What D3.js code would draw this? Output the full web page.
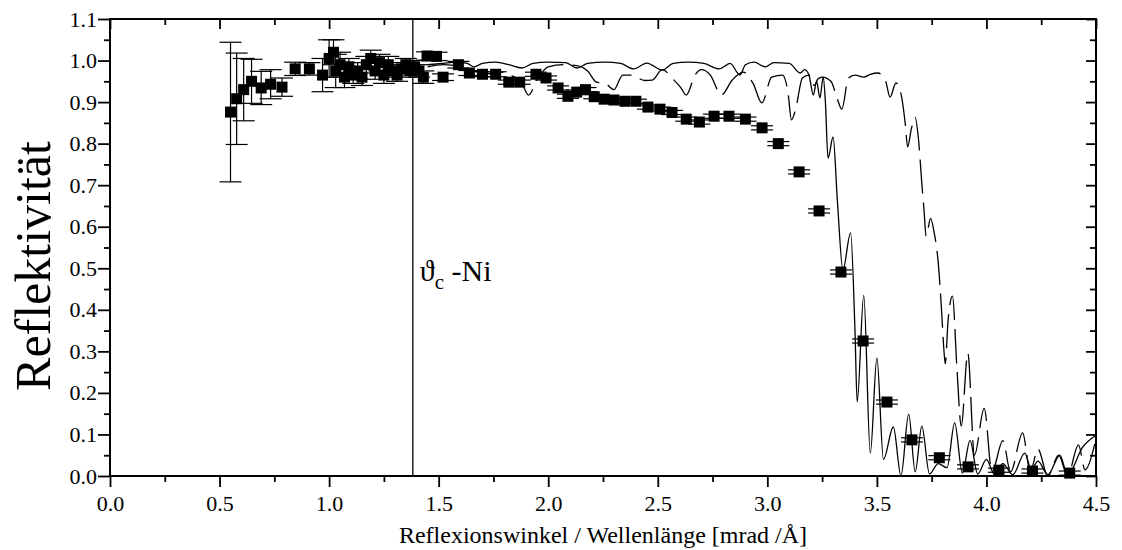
<!DOCTYPE html>
<html>
<head>
<meta charset="utf-8">
<script src="https://cdn.jsdelivr.net/npm/d3@7"></script>
<style>
  html, body { margin: 0; padding: 0; background: #fff; }
  svg { display: block; }
  text { font-family: "Liberation Serif", "Times New Roman", serif; fill: #000; }
</style>
</head>
<body>
<svg id="chart" width="1122" height="550"></svg>
<script>
// Measured reflectivity (angle/wavelength in mrad/Å, reflectivity, ± error)
const measQ = [0.55, 0.578, 0.61, 0.646, 0.69, 0.733, 0.785, 0.845, 0.91,
  0.97, 1.0, 1.02, 1.03, 1.05, 1.07, 1.09, 1.11, 1.13, 1.15, 1.17, 1.19, 1.21, 1.23, 1.25, 1.27, 1.29, 1.31, 1.33, 1.35, 1.37, 1.39, 1.41, 1.43,
  1.447, 1.49, 1.52, 1.59, 1.64, 1.70, 1.76, 1.82, 1.87, 1.944, 1.99, 2.045, 2.09, 2.13, 2.17, 2.21, 2.255, 2.30, 2.35, 2.40,
  2.455, 2.51, 2.565, 2.63, 2.69, 2.757, 2.825, 2.90, 2.976, 3.05, 3.145, 3.236, 3.336, 3.437, 3.546, 3.66, 3.785, 3.916, 4.057, 4.21, 4.38];
const measR = [0.876, 0.908, 0.93, 0.95, 0.934, 0.943, 0.936, 0.98, 0.98,
  0.965, 1.005, 1.02, 0.975, 0.99, 0.96, 0.985, 0.965, 0.975, 0.96, 0.99, 1.005, 0.975, 0.995, 0.965, 0.99, 0.975, 0.965, 0.98, 0.99, 0.975, 0.985, 0.975, 0.96,
  1.011, 1.01, 0.96, 0.99, 0.97, 0.967, 0.967, 0.948, 0.948, 0.967, 0.958, 0.934, 0.914, 0.924, 0.93, 0.913, 0.907, 0.905, 0.902, 0.902,
  0.888, 0.883, 0.875, 0.859, 0.852, 0.866, 0.866, 0.859, 0.838, 0.80, 0.732, 0.638, 0.491, 0.325, 0.178, 0.087, 0.044, 0.022, 0.014, 0.012, 0.007];
const measErr = [0.168, 0.11, 0.075, 0.053, 0.04, 0.035, 0.022, 0.016, 0.015,
  0.04, 0.045, 0.03, 0.04, 0.03, 0.025, 0.02, 0.02, 0.02, 0.02, 0.02, 0.02, 0.02, 0.02, 0.02, 0.02, 0.015, 0.015, 0.015, 0.015, 0.015, 0.015, 0.015, 0.015,
  0.01, 0.01, 0.008, 0.008, 0.006, 0.006, 0.006, 0.005, 0.005, 0.005, 0.005, 0.005, 0.005, 0.005, 0.005, 0.005, 0.005, 0.005, 0.005, 0.005,
  0.005, 0.005, 0.005, 0.005, 0.005, 0.005, 0.005, 0.005, 0.005, 0.005, 0.005, 0.005, 0.005, 0.005, 0.005, 0.005, 0.005, 0.005, 0.005, 0.005, 0.005];

// Simulated reflectivity, first layer system (solid line)
const simAQ = [1.45, 1.52, 1.58, 1.63, 1.66, 1.70, 1.76, 1.82, 1.88, 1.93, 2.00, 2.08, 2.13, 2.18, 2.26, 2.33, 2.39, 2.45, 2.52, 2.57,
  2.64, 2.71, 2.78, 2.83, 2.875, 2.90, 2.94, 2.99, 3.03, 3.10, 3.15, 3.17, 3.19, 3.21, 3.225, 3.24, 3.255, 3.265, 3.277, 3.30,
  3.32, 3.345, 3.38, 3.40, 3.41, 3.44, 3.47, 3.50, 3.53, 3.575, 3.61, 3.645, 3.675, 3.705, 3.74, 3.78, 3.82, 3.855, 3.89, 3.925,
  3.96, 4.00, 4.035, 4.075, 4.12, 4.175, 4.205, 4.235, 4.28, 4.335, 4.37, 4.44, 4.50];
const simAR = [0.99, 0.993, 0.996, 0.993, 0.985, 0.993, 0.996, 0.99, 0.982, 0.993, 0.996, 0.995, 0.982, 0.993, 0.996, 0.993, 0.98, 0.994, 0.977, 0.993,
  0.996, 0.993, 0.98, 0.993, 0.965, 0.99, 0.996, 0.985, 0.995, 0.993, 0.97, 0.978, 0.965, 0.917, 0.95, 0.91, 0.96, 0.9, 0.765, 0.816,
  0.66, 0.496, 0.585, 0.35, 0.178, 0.435, 0.055, 0.284, 0.04, 0.118, 0.0, 0.149, 0.01, 0.12, 0.005, 0.03, 0.02, 0.128, 0.007, 0.085,
  0.005, 0.04, 0.005, 0.03, 0.003, 0.055, 0.015, 0.036, 0.003, 0.05, 0.003, 0.07, 0.098];

// Simulated reflectivity, second layer system (dashed line)
const simBQ = [1.45, 1.52, 1.60, 1.66, 1.72, 1.78, 1.84, 1.88, 1.91, 1.95, 2.00, 2.07, 2.13, 2.18, 2.22, 2.26, 2.30, 2.34, 2.38, 2.44,
  2.475, 2.52, 2.57, 2.605, 2.63, 2.67, 2.70, 2.74, 2.79, 2.84, 2.89, 2.935, 2.975, 3.02, 3.07, 3.095, 3.11, 3.13, 3.16, 3.19,
  3.215, 3.23, 3.25, 3.29, 3.318, 3.34, 3.37, 3.40, 3.44, 3.47, 3.505, 3.54, 3.56, 3.587, 3.61, 3.63, 3.64, 3.657, 3.674, 3.69,
  3.705, 3.715, 3.725, 3.745, 3.76, 3.78, 3.795, 3.805, 3.812, 3.825, 3.845, 3.865, 3.885, 3.915, 3.945, 3.99, 4.025, 4.075, 4.11, 4.165,
  4.20, 4.235, 4.28, 4.33, 4.37, 4.42, 4.45, 4.50];
const simBR = [0.985, 0.99, 0.985, 0.975, 0.968, 0.972, 0.962, 0.945, 0.917, 0.955, 0.985, 0.99, 0.988, 0.975, 0.948, 0.945, 0.93, 0.965, 0.965, 0.952,
  0.953, 0.978, 0.955, 0.935, 0.917, 0.965, 0.978, 0.965, 0.917, 0.953, 0.972, 0.945, 0.898, 0.96, 0.965, 0.92, 0.857, 0.885, 0.958, 0.965,
  0.94, 0.955, 0.96, 0.95, 0.91, 0.883, 0.958, 0.965, 0.96, 0.967, 0.97, 0.95, 0.912, 0.946, 0.92, 0.845, 0.792, 0.835, 0.864, 0.81,
  0.705, 0.64, 0.577, 0.62, 0.59, 0.513, 0.40, 0.31, 0.27, 0.375, 0.433, 0.262, 0.12, 0.296, 0.05, 0.163, 0.01, 0.085, 0.01, 0.104,
  0.01, 0.065, 0.0, 0.05, 0.0, 0.075, 0.015, 0.09];

// Critical angle of nickel
const criticalNi = 1.382;

// Axis ticks
const xMajorTicks = [0, 0.5, 1.0, 1.5, 2.0, 2.5, 3.0, 3.5, 4.0, 4.5];
const xMinorTicks = [0.25, 0.75, 1.25, 1.75, 2.25, 2.75, 3.25, 3.75, 4.25];
const yMajorTicks = [0, 0.1, 0.2, 0.3, 0.4, 0.5, 0.6, 0.7, 0.8, 0.9, 1.0, 1.1];
const yMinorTicks = [0.05, 0.15, 0.25, 0.35, 0.45, 0.55, 0.65, 0.75, 0.85, 0.95, 1.05];

(function draw() {
  const svg = d3.select("#chart");
  const W = 1122, H = 550;
  svg.append("rect").attr("width", W).attr("height", H).attr("fill", "#fff");

  const pL = 110, pR = 1096, pT = 19, pB = 476;
  const x = d3.scaleLinear().domain([0, 4.5]).range([pL, pR]);
  const y = d3.scaleLinear().domain([0, 1.1]).range([pB, pT]);

  const fmt = d3.format(".1f");

  function styleAxis(g, fontSize) {
    g.select(".domain").remove();
    g.selectAll(".tick line").attr("stroke", "#000").attr("stroke-width", 1.8);
    g.selectAll(".tick text")
      .style("font-family", '"Liberation Serif", "Times New Roman", serif')
      .style("font-size", fontSize + "px")
      .attr("fill", "#000");
  }

  // Bottom axis (outward ticks with labels)
  svg.append("g").attr("transform", `translate(0,${pB})`)
    .call(d3.axisBottom(x).tickValues(xMajorTicks).tickSize(11).tickPadding(8).tickFormat(fmt))
    .call(g => styleAxis(g, 22));
  svg.append("g").attr("transform", `translate(0,${pB})`)
    .call(d3.axisBottom(x).tickValues(xMinorTicks).tickSize(6).tickFormat(""))
    .call(g => styleAxis(g, 22));
  // Top axis (inward ticks)
  svg.append("g").attr("transform", `translate(0,${pT})`)
    .call(d3.axisBottom(x).tickValues(xMajorTicks).tickSize(10).tickFormat(""))
    .call(g => styleAxis(g, 22));
  svg.append("g").attr("transform", `translate(0,${pT})`)
    .call(d3.axisBottom(x).tickValues(xMinorTicks).tickSize(6).tickFormat(""))
    .call(g => styleAxis(g, 22));
  // Left axis (outward ticks with labels)
  svg.append("g").attr("transform", `translate(${pL},0)`)
    .call(d3.axisLeft(y).tickValues(yMajorTicks).tickSize(12).tickPadding(1).tickFormat(fmt))
    .call(g => styleAxis(g, 22));
  svg.append("g").attr("transform", `translate(${pL},0)`)
    .call(d3.axisLeft(y).tickValues(yMinorTicks).tickSize(6).tickFormat(""))
    .call(g => styleAxis(g, 22));
  // Right axis (inward ticks)
  svg.append("g").attr("transform", `translate(${pR},0)`)
    .call(d3.axisLeft(y).tickValues(yMajorTicks).tickSize(10).tickFormat(""))
    .call(g => styleAxis(g, 22));
  svg.append("g").attr("transform", `translate(${pR},0)`)
    .call(d3.axisLeft(y).tickValues(yMinorTicks).tickSize(6).tickFormat(""))
    .call(g => styleAxis(g, 22));

  // Plot frame
  svg.append("rect")
    .attr("x", pL).attr("y", pT)
    .attr("width", pR - pL).attr("height", pB - pT)
    .attr("fill", "none").attr("stroke", "#000").attr("stroke-width", 2);

  // Clip for curves
  svg.append("clipPath").attr("id", "plotClip")
    .append("rect").attr("x", pL).attr("y", pT)
    .attr("width", pR - pL).attr("height", pB - pT);

  const line = d3.line()
    .x(d => x(d[0])).y(d => y(d[1]))
    .curve(d3.curveMonotoneX);

  const plot = svg.append("g").attr("clip-path", "url(#plotClip)");

  plot.append("path")
    .datum(d3.zip(simBQ, simBR))
    .attr("d", line)
    .attr("fill", "none").attr("stroke", "#000").attr("stroke-width", 1.3)
    .attr("stroke-dasharray", "34,9");

  plot.append("path")
    .datum(d3.zip(simAQ, simAR))
    .attr("d", line)
    .attr("fill", "none").attr("stroke", "#000").attr("stroke-width", 1.3);

  // Critical angle marker
  plot.append("line")
    .attr("x1", x(criticalNi)).attr("x2", x(criticalNi))
    .attr("y1", y(0)).attr("y2", y(1.1))
    .attr("stroke", "#000").attr("stroke-width", 1.3);

  // Measured points with error bars
  const meas = measQ.map((q, i) => ({ q, r: measR[i], e: measErr[i] }));
  const capW = 11, sq = 11;
  const pts = svg.append("g");
  const eb = pts.selectAll("g.eb").data(meas).join("g").attr("class", "eb");
  eb.append("line")
    .attr("x1", d => x(d.q)).attr("x2", d => x(d.q))
    .attr("y1", d => y(d.r - d.e)).attr("y2", d => y(d.r + d.e))
    .attr("stroke", "#000").attr("stroke-width", 1.2);
  eb.append("line")
    .attr("x1", d => x(d.q) - capW).attr("x2", d => x(d.q) + capW)
    .attr("y1", d => y(d.r + d.e)).attr("y2", d => y(d.r + d.e))
    .attr("stroke", "#000").attr("stroke-width", 1.2);
  eb.append("line")
    .attr("x1", d => x(d.q) - capW).attr("x2", d => x(d.q) + capW)
    .attr("y1", d => y(d.r - d.e)).attr("y2", d => y(d.r - d.e))
    .attr("stroke", "#000").attr("stroke-width", 1.2);
  pts.selectAll("rect.pt").data(meas).join("rect").attr("class", "pt")
    .attr("x", d => x(d.q) - sq / 2).attr("y", d => y(d.r) - sq / 2)
    .attr("width", sq).attr("height", sq).attr("fill", "#000");

  // Critical angle label
  const lbl = svg.append("text").attr("x", x(criticalNi) + 7).attr("y", 281)
    .style("font-size", "30px");
  lbl.append("tspan").text("ϑ");
  lbl.append("tspan").attr("dy", 8).style("font-size", "21px").text("c");
  lbl.append("tspan").attr("dy", -8).text(" -Ni");

  // Axis titles
  svg.append("text")
    .attr("x", (pL + pR) / 2).attr("y", 543)
    .attr("text-anchor", "middle")
    .style("font-size", "24px")
    .text("Reflexionswinkel / Wellenlänge [mrad /Å]");

  svg.append("text")
    .attr("transform", `translate(50,266) rotate(-90)`)
    .attr("text-anchor", "middle")
    .style("font-size", "50px")
    .text("Reflektivität");
})();
</script>
</body>
</html>
